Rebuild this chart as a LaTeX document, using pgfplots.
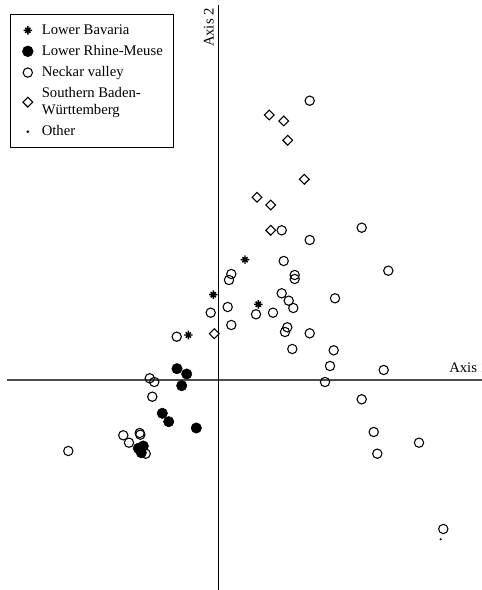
\documentclass[border=0pt]{standalone}
\usepackage{pgfplots}
\pgfplotsset{compat=1.18}
\usepackage{fontspec}
\setmainfont{Liberation Serif}
\pgfdeclareplotmark{ast8}{%
  \pgfpathmoveto{\pgfqpoint{-\pgfplotmarksize}{0pt}}\pgfpathlineto{\pgfqpoint{\pgfplotmarksize}{0pt}}%
  \pgfpathmoveto{\pgfqpoint{0pt}{-\pgfplotmarksize}}\pgfpathlineto{\pgfqpoint{0pt}{\pgfplotmarksize}}%
  \pgfpathmoveto{\pgfqpoint{-0.6\pgfplotmarksize}{-0.6\pgfplotmarksize}}\pgfpathlineto{\pgfqpoint{0.6\pgfplotmarksize}{0.6\pgfplotmarksize}}%
  \pgfpathmoveto{\pgfqpoint{-0.6\pgfplotmarksize}{0.6\pgfplotmarksize}}\pgfpathlineto{\pgfqpoint{0.6\pgfplotmarksize}{-0.6\pgfplotmarksize}}%
  \pgfusepathqstroke}
\begin{document}
\begin{tikzpicture}
\begin{axis}[
  scale only axis, width=361.5pt, height=442.5pt,
  xmin=-218, xmax=264, ymin=-210, ymax=380,
  hide axis, clip=false,
  legend style={at={(axis cs:-208,366)}, anchor=north west, draw=black, line width=0.7pt,
    font=\fontsize{11}{12.5}\selectfont, row sep=2.8pt, inner xsep=3pt, inner ysep=5.5pt,
    cells={anchor=west, align=left}},
  legend cell align=left,
  legend image code/.code={\path[draw=none,fill=none] (0pt,0pt) -- (18.5pt,0pt); \draw[#1] plot coordinates {(10pt,0pt)};},
]
\draw[line width=0.8pt, black!70] (axis cs:-211,0) -- (axis cs:264,0);
\draw[line width=0.7pt, black] (axis cs:0,375) -- (axis cs:0,-210);

\addplot[only marks, mark=ast8, mark size=3.2pt, mark options={line width=1.1pt, black}] coordinates {
(27,120.3) (-4.7,85.3) (40.3,75.7) (-29.7,45)
};
\addlegendentry{Lower Bavaria}

\addplot[only marks, mark=*, mark size=3.9pt, mark options={black, fill=black}] coordinates {
(-41,11.3) (-31.3,6) (-36.3,-5.7) (-55.7,-33.3) (-49.3,-41.7) (-21.7,-48)
(-79.7,-68.3) (-74.7,-66) (-76.7,-72.7)
};
\addlegendentry{Lower Rhine-Meuse\hspace{3pt}}

\addplot[only marks, mark=o, mark size=3.5pt, mark options={line width=0.8pt, black}] coordinates {
(91.7,279.3) (143.7,152.3) (91.7,140) (63.7,149.7) (65.7,119) (170.3,109.3)
(13.3,106) (11,100) (76.7,105) (76.7,101) (63.7,86.7) (70.7,79.3) (75.3,72)
(117,81.7) (9.7,73) (-7.3,67.3) (38,65.7) (55,67.3) (13.3,55) (69.3,52.7)
(67,48) (91.7,46.7) (74.3,31) (115.7,29.7) (112,14) (165.7,10) (-41.3,43.3)
(107,-2) (143.7,-19.3) (155.7,-52) (201,-62.7) (159.3,-73.7) (225.3,-149)
(-68.3,1.7) (-63.7,-2) (-65.7,-16.7) (-94.7,-55.3) (-89,-62.7) (-78.3,-53)
(-77.7,-54.7) (-72.3,-73.7) (-149.7,-71)
};
\addlegendentry{Neckar valley}

\addplot[only marks, mark=square, mark size=2.6pt, mark options={line width=0.8pt, black, rotate=45}] coordinates {
(51.3,265) (65.7,259) (69.7,239.7) (86.3,200.7) (39,182.7) (52.7,175)
(52.7,149.7) (-3.7,46.3)
};
\addlegendentry{Southern Baden-\\W\"urttemberg}

\addplot[only marks, mark=*, mark size=0.6pt, mark options={black}] coordinates {
(222.7,-159.3)
};
\addlegendentry{Other}

\node[rotate=90, anchor=south east, inner sep=0pt, font=\fontsize{11}{12}\selectfont] at (axis cs:-4,372) {Axis 2};
\node[anchor=base west, inner sep=0pt, font=\fontsize{11}{12}\selectfont] at (axis cs:231,7) {Axis 1};
\end{axis}
\pgfresetboundingbox
\path[use as bounding box] (current axis.south west) rectangle (current axis.north east);
\end{tikzpicture}
\end{document}
